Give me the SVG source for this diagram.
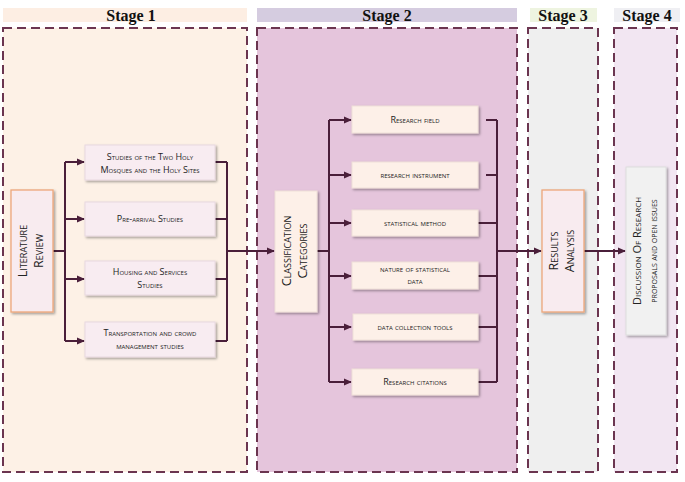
<svg xmlns="http://www.w3.org/2000/svg" width="685" height="482" viewBox="0 0 685 482">
<defs>
<marker id="ah" markerWidth="8" markerHeight="8" refX="7" refY="4" orient="auto" markerUnits="userSpaceOnUse"><path d="M0,0.5 L8,4 L0,7.5 z" fill="#4a1f3a"/></marker>
<filter id="sh" x="-10%" y="-10%" width="130%" height="130%"><feDropShadow dx="1.5" dy="1.5" stdDeviation="0.8" flood-color="#000" flood-opacity="0.35"/></filter>
</defs>
<style>
.panel{stroke:#6b3550;stroke-width:2;stroke-dasharray:9,5}
.hd{font-family:"Liberation Serif",serif;font-weight:bold;font-size:16px;text-anchor:middle;fill:#111}
.box{fill:#f8ecf1;stroke:#e8d8df;stroke-width:1;filter:url(#sh)}
.vbox{fill:#f8ebef;stroke:#eda77a;stroke-width:1.3;filter:url(#sh)}
.cbox{fill:#fdf0e8;stroke:#efe0d8;stroke-width:1;filter:url(#sh)}
.t{font-family:"Open Sans","DejaVu Sans",sans-serif;font-variant:small-caps;font-size:9px;text-anchor:middle;fill:#222}
.tv{font-family:"Open Sans","DejaVu Sans",sans-serif;font-variant:small-caps;font-size:12.5px;text-anchor:middle;fill:#222}
.ln{stroke:#4a1f3a;stroke-width:2;fill:none}
.ar{stroke:#4a1f3a;stroke-width:2;fill:none;marker-end:url(#ah)}
</style>
<rect width="685" height="482" fill="#fff"/>
<g id="stage1">
<rect x="3" y="8" width="244" height="14" fill="#fdeee3"/>
<text class="hd" x="131" y="21">Stage 1</text>
<rect class="panel" x="3" y="28" width="244" height="444" fill="#fdf1e6"/>
</g>
<g id="stage2">
<rect x="257" y="8" width="260" height="14" fill="#d5cce0"/>
<text class="hd" x="387" y="21">Stage 2</text>
<rect class="panel" x="257" y="28" width="260" height="444" fill="#e5c5dc"/>
</g>
<g id="stage3">
<rect x="530" y="8" width="67" height="14" fill="#eef4e0"/>
<text class="hd" x="563" y="21">Stage 3</text>
<rect class="panel" x="528" y="28" width="70" height="444" fill="#efefef"/>
</g>
<g id="stage4">
<rect x="614" y="8" width="66" height="14" fill="#efeff3"/>
<text class="hd" x="647" y="21">Stage 4</text>
<rect class="panel" x="614" y="28" width="63" height="444" fill="#f2e6f2"/>
</g>
<g id="connectors">
<path class="ln" d="M53,251 H65 M65,162 V341"/>
<path class="ar" d="M65,162 H84"/><path class="ar" d="M65,219 H84"/><path class="ar" d="M65,279 H84"/><path class="ar" d="M65,341 H84"/>
<path class="ln" d="M215,162 H227 M215,219 H227 M215,279 H227 M215,341 H227 M227,162 V341"/>
<path class="ar" d="M227,251 H274"/>
<path class="ln" d="M317,251 H329 M329,120 V382"/>
<path class="ar" d="M329,120 H351"/><path class="ar" d="M329,175 H351"/><path class="ar" d="M329,223 H351"/><path class="ar" d="M329,276 H351"/><path class="ar" d="M329,327 H351"/><path class="ar" d="M329,382 H351"/>
<path class="ln" d="M486,120 H497 M486,175 H497 M478,223 H497 M478,276 H497 M478,327 H497 M478,382 H497 M497,120 V382"/>
<path class="ar" d="M497,251 H541"/>
<path class="ar" d="M584,251 H625"/>
</g>
<g id="literature-review">
<rect class="vbox" x="11" y="190" width="42" height="122"/>
<text class="tv" transform="translate(27,251) rotate(-90)">Literature</text>
<text class="tv" transform="translate(43,251) rotate(-90)">Review</text>
</g>
<g id="s1a"><rect class="box" x="85" y="145" width="130" height="35"/><text class="t" x="150" y="160">Studies of the Two Holy</text><text class="t" x="150" y="173">Mosques and the Holy Sites</text></g>
<g id="s1b"><rect class="box" x="85" y="202" width="130" height="34"/><text class="t" x="150" y="222">Pre-arrival Studies</text></g>
<g id="s1c"><rect class="box" x="85" y="261" width="130" height="34"/><text class="t" x="150" y="275">Housing and Services</text><text class="t" x="150" y="288">Studies</text></g>
<g id="s1d"><rect class="box" x="85" y="322" width="130" height="35"/><text class="t" x="150" y="336">Transportation and crowd</text><text class="t" x="150" y="349">management studies</text></g>
<g id="classification">
<rect class="cbox" x="275" y="191" width="42" height="121"/>
<text class="tv" transform="translate(291,251) rotate(-90)">Classification</text>
<text class="tv" transform="translate(307,251) rotate(-90)">Categories</text>
</g>
<g id="c1"><rect class="cbox" x="352" y="106" width="126" height="27"/><text class="t" x="415" y="123">Research field</text></g>
<g id="c2"><rect class="cbox" x="352" y="162" width="126" height="26"/><text class="t" x="415" y="178">research instrument</text></g>
<g id="c3"><rect class="cbox" x="352" y="210" width="126" height="26"/><text class="t" x="415" y="226">statistical method</text></g>
<g id="c4"><rect class="cbox" x="352" y="262" width="126" height="27"/><text class="t" x="415" y="272">nature of statistical</text><text class="t" x="415" y="284">data</text></g>
<g id="c5"><rect class="cbox" x="353" y="314" width="125" height="26"/><text class="t" x="415" y="330">data collection tools</text></g>
<g id="c6"><rect class="cbox" x="352" y="369" width="126" height="26"/><text class="t" x="415" y="385">Research citations</text></g>
<g id="results">
<rect class="vbox" x="542" y="190" width="42" height="122"/>
<text class="tv" transform="translate(558,251) rotate(-90)">Results</text>
<text class="tv" transform="translate(574,251) rotate(-90)">Analysis</text>
</g>
<g id="discussion">
<rect class="box" x="626" y="167" width="40" height="168" style="fill:#f1f1f1;stroke:#ddd"/>
<text class="tv" style="font-size:11px" transform="translate(641,251) rotate(-90)">Discussion Of Research</text>
<text class="tv" style="font-size:10px" transform="translate(657,251) rotate(-90)">proposals and open issues</text>
</g>
</svg>
